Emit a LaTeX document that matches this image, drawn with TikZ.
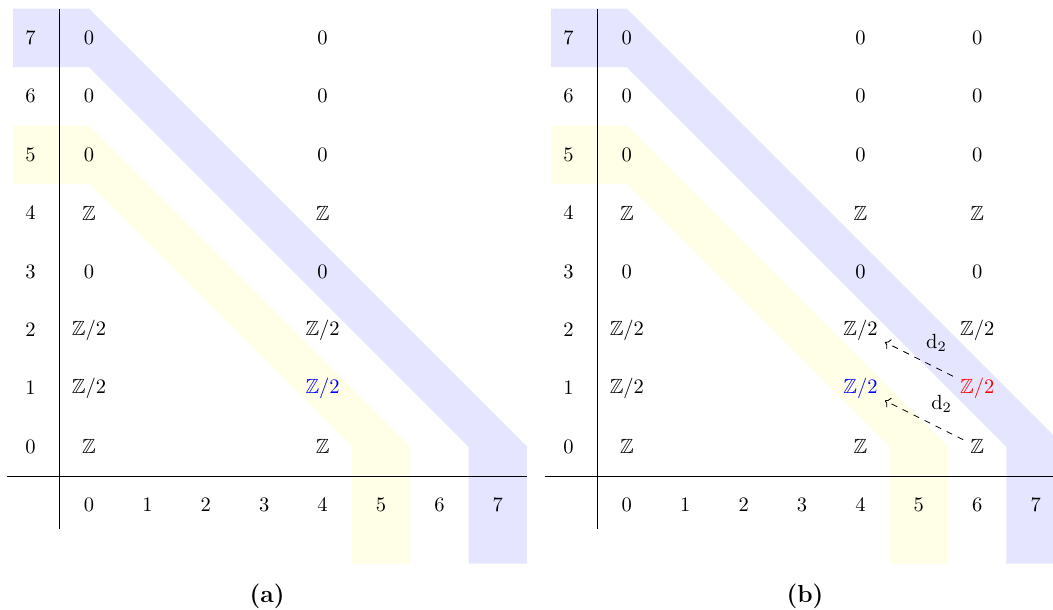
\documentclass[tikz,border=0pt]{standalone}
\usepackage{amsmath,amssymb}
\usetikzlibrary{arrows.meta}
\newcommand{\Ztwo}{\mathbb{Z}/2}
% one column of the chart: panel #1, column #2, row 1 in colour #3
\newcommand{\ssecol}[3]{%
  \foreach \r/\v in {0/\mathbb{Z},2/\Ztwo,3/0,4/\mathbb{Z},5/0,6/0,7/0}
    \node (#1-#2-\r) at (#2,\r) {$\v$};
  \node[text=#3] (#1-#2-1) at (#2,1) {$\Ztwo$};}

\begin{document}
\begin{tikzpicture}[x=1cm,y=1cm,>={To[length=2.5pt]}]
  \useasboundingbox (-1.524,-2.78) rectangle (16.507,7.65);
  \foreach \ox/\pn in {0/a,9.21/b}{
    \begin{scope}[xshift=\ox cm]
      \fill[blue!10] (-1.3,7.5)--(0,7.5)--(7.5,0)--(7.5,-2)--(6.5,-2)--(6.5,0)--(0,6.5)--(-1.3,6.5)--cycle;
      \fill[yellow!10] (-1.3,5.5)--(0,5.5)--(5.5,0)--(5.5,-2)--(4.5,-2)--(4.5,0)--(0,4.5)--(-1.3,4.5)--cycle;
      \draw (-.5,-1.4)--(-.5,7.5);
      \draw (-1.4,-.5)--(7.5,-.5);
      \foreach \i in {0,...,7}{
        \node (\pn-q\i) at (-1,\i) {$\i$};
        \node (\pn-p\i) at (\i,-1) {$\i$};}
      \node[font=\large\bfseries] (\pn-cap) at (3.05,-2.57) {(\pn)};
    \end{scope}}
  % panel (a)
  \ssecol{a}{0}{black}
  \ssecol{a}{4}{blue}
  % panel (b)
  \begin{scope}[xshift=9.21cm]
    \ssecol{b}{0}{black}
    \ssecol{b}{4}{blue}
    \ssecol{b}{6}{red}
  \end{scope}
  \draw[dashed,->] (b-6-1)--(b-4-2) node[midway,above right]{$\mathrm{d}_2$};
  \draw[dashed,->] (b-6-0)--(b-4-1) node[midway,above right]{$\mathrm{d}_2$};
\end{tikzpicture}
\end{document}
